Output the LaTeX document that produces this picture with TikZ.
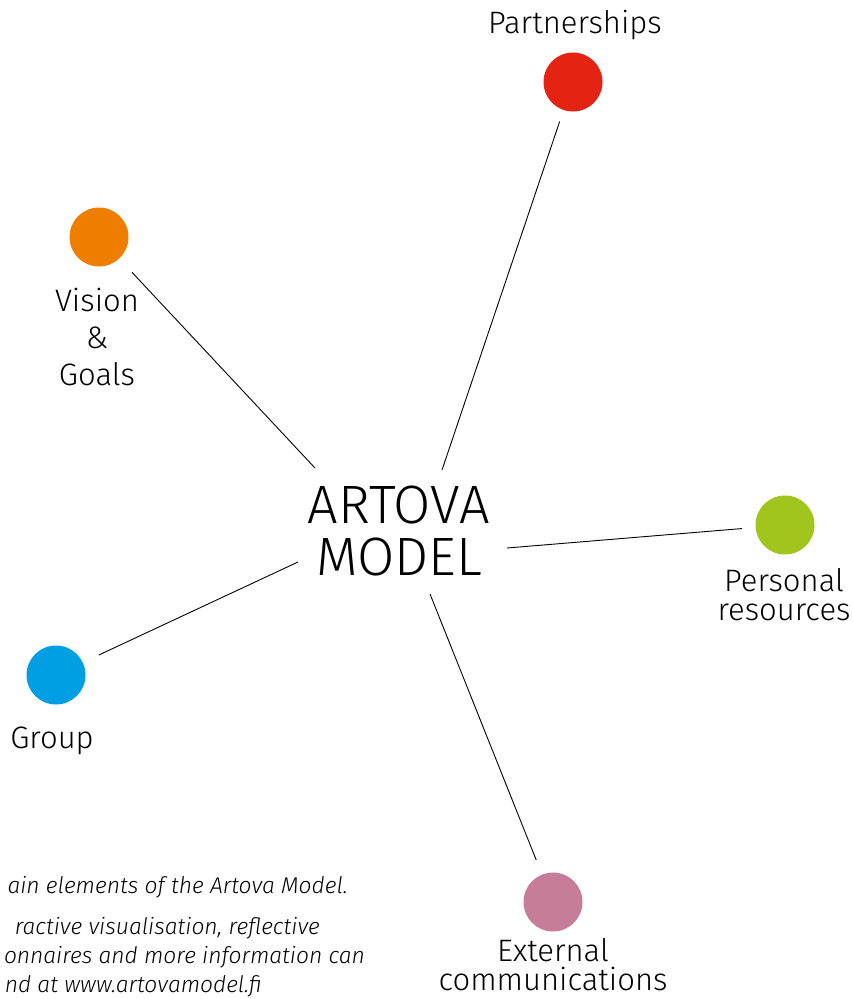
\documentclass[tikz,border=0pt]{standalone}
\usepackage{fontspec}
\setmainfont{Fira Sans}[UprightFont=* Light, ItalicFont=* Light Italic]
\usepackage{tikz}

\definecolor{artred}{HTML}{E42313}
\definecolor{artorange}{HTML}{EF7D00}
\definecolor{artgreen}{HTML}{A1C51C}
\definecolor{artblue}{HTML}{009FE3}
\definecolor{artpink}{HTML}{C77C9A}

\tikzset{
  dot/.style={circle, minimum size=59pt, inner sep=0pt},
  lbl/.style={align=center, inner sep=0pt, font=\fontsize{31}{29}\selectfont},
  link/.style={line width=0.9pt, black},
  note/.style={inner sep=0pt, anchor=base east, font=\fontsize{22.8}{30}\selectfont\itshape}
}

\begin{document}
\begin{tikzpicture}[x=1pt, y=-1pt]
        \useasboundingbox (0,0) rectangle (852,999);

        % centre
        \node[inner sep=0pt, align=center, anchor=base,
              font=\fontsize{54}{52}\selectfont] (artova) at (399,575) {ARTOVA\\MODEL};

        % coloured dots
        \node[dot, fill=artred] (partners) at (573,82) {};
        \node[dot, fill=artorange] (vision) at (99,237) {};
        \node[dot, fill=artgreen] (personal) at (785,525) {};
        \node[dot, fill=artblue] (group) at (56,675) {};
        \node[dot, fill=artpink] (external) at (553,902) {};

        % labels (base = last line)
        \node[lbl, anchor=base] (partnersLbl) at (575,33) {Partnerships};
        \node[lbl, anchor=base, font=\fontsize{31}{37}\selectfont] (visionLbl) at (97,385) {Vision\\\&\\Goals};
        \node[lbl, anchor=base] (personalLbl) at (784,620) {Personal\\resources};
        \node[lbl, anchor=base] (groupLbl) at (52,748) {Group};
        \node[lbl, anchor=base] (externalLbl) at (553,990) {External\\communications};

        % inner ends of the spokes
        \coordinate (pIn) at (442,470);
        \coordinate (vIn) at (315,468);
        \coordinate (rIn) at (507,548);
        \coordinate (gIn) at (298,562);
        \coordinate (eIn) at (430,594);

        \draw[link, shorten <=12pt] (partners) -- (pIn);
        \draw[link, shorten <=18.5pt] (vision) -- (vIn);
        \draw[link, shorten <=13.5pt] (personal) -- (rIn);
        \draw[link, shorten <=17.5pt] (group) -- (gIn);
        \draw[link, shorten <=15.5pt] (external) -- (eIn);

        % caption
        \node[note] (note1) at (348,893) {ain elements of the Artova Model.};
        \node[note] (note2) at (320,934) {ractive visualisation, reflective};
        \node[note] (note3) at (365,963) {onnaires and more information can};
        \node[note] (note4) at (262,992) {nd at www.artovamodel.fi};
    \end{tikzpicture}
\end{document}
